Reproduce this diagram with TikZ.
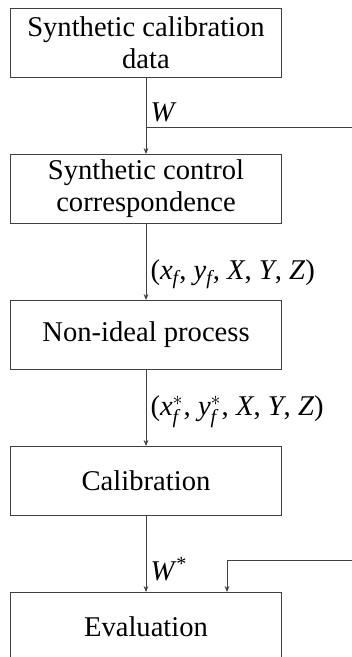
\documentclass[tikz,border=0pt]{standalone}
\usepackage{amsmath}
\usepackage{fontspec}
\setmainfont{Liberation Serif}
\usetikzlibrary{arrows.meta,positioning}

\newcommand{\fsub}{$_{\textit{f}}$}
\newcommand{\fstar}{$^{*}_{\textit{f}}$}

\begin{document}
\begin{tikzpicture}[x=0.5pt,y=-0.5pt,
  every node/.style={font=\fontsize{14.3}{16}\selectfont},
  stagebox/.style={draw=black!75,line width=0.5pt,minimum width=135.5pt,minimum height=34.5pt,inner sep=0pt,align=center},
  wire/.style={draw=black!75,line width=0.5pt},
  flow/.style={wire,-{Stealth[length=3pt,width=2.4pt]}},
  tag/.style={right,inner sep=2pt},
  node distance=38pt]
  \useasboundingbox (0,0) rectangle (352,657);
  \clip (0,0) rectangle (352,657);

  \node[stagebox] (calib data) at (146,43) {Synthetic calibration\\data};
  \node[stagebox,below=of calib data] (control corr) {Synthetic control\\correspondence};
  \node[stagebox,below=of control corr] (nonideal) {Non-ideal process};
  \node[stagebox,below=of nonideal] (calibration) {Calibration};
  \node[stagebox,below=of calibration] (evaluation) {Evaluation};

  \draw[flow] (calib data) -- node[tag,pos=0.45] {\textit{W}} (control corr);
  \draw[flow] (control corr) -- node[tag,pos=0.66] {(\textit{x}\fsub, \textit{y}\fsub, \textit{X}, \textit{Y}, \textit{Z})} (nonideal);
  \draw[flow] (nonideal) -- node[tag,pos=0.55] {(\textit{x}\fstar, \textit{y}\fstar, \textit{X}, \textit{Y}, \textit{Z})} (calibration);
  \draw[flow] (calibration) -- node[tag,pos=0.7] {\textit{W}\textsuperscript{*}} (evaluation);

  % branch out to the right, and back in to the evaluation stage
  \coordinate (w out) at (352,128);
  \coordinate (w in) at (352,560);
  \draw[wire] (w out) -- (w out -| calib data.south);
  \draw[flow] (w in) -| ([xshift=40.5pt]evaluation.north);
\end{tikzpicture}
\end{document}
